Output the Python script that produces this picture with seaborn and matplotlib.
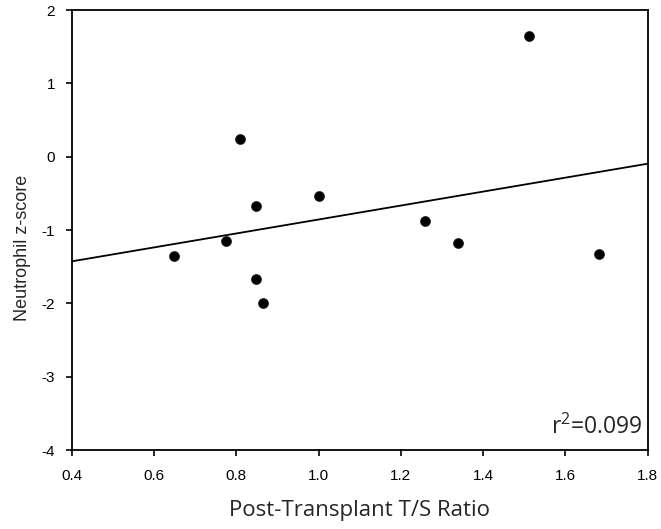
import matplotlib
matplotlib.use("Agg")
import matplotlib.pyplot as plt
import seaborn as sns
import pandas as pd

ts_ratio = [0.649, 0.776, 0.808, 0.847, 0.849, 0.865, 1.001, 1.258, 1.339, 1.511, 1.682]
neutrophil_z = [-1.356, -1.147, 0.236, -0.670, -1.670, -1.990, -0.533, -0.878, -1.180, 1.645, -1.320]
x_ticks = [0.4, 0.6, 0.8, 1.0, 1.2, 1.4, 1.6, 1.8]
y_ticks = [-4, -3, -2, -1, 0, 1, 2]
r2_label = "r$^2$=0.099"

df = pd.DataFrame({"ts": ts_ratio, "z": neutrophil_z})

sns.set_style("ticks")
plt.rcParams["font.family"] = ["Liberation Sans", "DejaVu Sans"]
plt.rcParams["mathtext.fontset"] = "custom"
plt.rcParams["mathtext.rm"] = "Open Sans"

fig = plt.figure(figsize=(6.61, 5.29), dpi=100)
ax = fig.add_axes([0.1085, 0.1493, 0.8715, 0.8317])
ax.set_xlim(0.4, 1.8)
ax.set_ylim(-4, 2)

sns.regplot(data=df, x="ts", y="z", ax=ax, ci=None, truncate=False,
            scatter_kws=dict(s=52, color="black", edgecolor="#222222", linewidths=0.5, alpha=1),
            line_kws=dict(color="black", lw=1.3))

ax.set_xlim(0.4, 1.8)
ax.set_ylim(-4, 2)
ax.set_xticks(x_ticks)
ax.set_xticklabels([f"{v:.1f}" for v in x_ticks])
ax.set_yticks(y_ticks)
ax.set_yticklabels([str(v) for v in y_ticks])
ax.tick_params(axis="both", direction="out", length=4, width=1.2, labelsize=11, colors="black")
ax.tick_params(axis="x", pad=10)
ax.tick_params(axis="y", pad=8)
for s in ax.spines.values():
    s.set_visible(True)
    s.set_linewidth(1.3)
    s.set_color("black")

ax.set_xlabel("Post-Transplant T/S Ratio", fontsize=16, family=["Open Sans", "DejaVu Sans"], labelpad=12)
ax.set_ylabel("Neutrophil z-score", fontsize=13)
ax.yaxis.set_label_coords(-0.071, 0.46)
ax.text(0.99, 0.036, r2_label, transform=ax.transAxes, ha="right", va="baseline",
        fontsize=16.5, family=["Open Sans", "DejaVu Sans"])

fig.savefig("out.png", dpi=100)
